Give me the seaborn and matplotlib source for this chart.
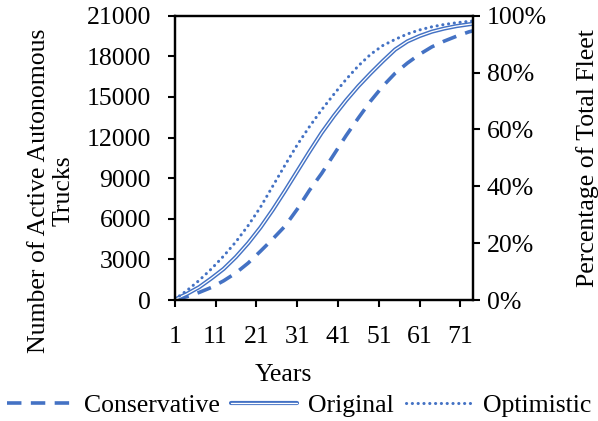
import numpy as np
import pandas as pd
import matplotlib
matplotlib.use('Agg')
import matplotlib.pyplot as plt
import matplotlib.patheffects as pe
from matplotlib.ticker import PercentFormatter
import seaborn as sns

# data
years = [1, 4, 7, 10, 13, 16, 19, 22, 25, 28, 31, 34, 37, 40, 43, 46, 49, 52, 55, 58, 61, 64, 67, 70, 73, 74]
conservative = [20, 250, 560, 930, 1420, 2000, 2730, 3600, 4500, 5450, 6700, 8100, 9350, 10750, 12150,
                13450, 14700, 15800, 16750, 17500, 18150, 18700, 19120, 19480, 19800, 19880]
original = [30, 450, 950, 1600, 2300, 3180, 4200, 5350, 6650, 8050, 9500, 10950, 12350, 13600, 14750,
            15800, 16750, 17650, 18500, 19100, 19500, 19820, 20050, 20230, 20360, 20400]
optimistic = [50, 700, 1450, 2300, 3250, 4300, 5500, 6850, 8400, 9950, 11450, 12800, 14050, 15200, 16300,
              17300, 18150, 18800, 19250, 19650, 19950, 20180, 20350, 20480, 20580, 20610]

left_ticks = [0, 3000, 6000, 9000, 12000, 15000, 18000, 21000]
right_ticks = [0, 0.2, 0.4, 0.6, 0.8, 1.0]
x_ticks = [1, 11, 21, 31, 41, 51, 61, 71]

blue = '#4472C4'
fs = 18.5

sns.set_style('white')
plt.rcParams['font.family'] = ['Liberation Serif', 'DejaVu Serif']
plt.rcParams['text.color'] = 'black'
plt.rcParams['axes.labelcolor'] = 'black'
plt.rcParams['xtick.color'] = 'black'
plt.rcParams['ytick.color'] = 'black'

fig = plt.figure(figsize=(5.98, 4.21), dpi=100)
ax = fig.add_axes([0.2921, 0.2874, 0.4984, 0.6753])

sns.lineplot(x=years, y=conservative, ax=ax, color=blue, lw=2.6,
             linestyle=(0, (4.0, 2.6)), label='Conservative')
sns.lineplot(x=years, y=original, ax=ax, color='white', lw=0.9, label='Original',
             path_effects=[pe.Stroke(linewidth=3.0, foreground=blue), pe.Normal()])
sns.lineplot(x=years, y=optimistic, ax=ax, color=blue, lw=2.2, dash_capstyle='round',
             linestyle=(0, (0.05, 1.85)), label='Optimistic')

ax.set_xlim(1, 74)
ax.set_ylim(0, 21000)
ax.set_xticks(x_ticks)
ax.set_yticks(left_ticks)
ax.tick_params(axis='y', direction='out', length=5, width=1.5, labelsize=fs, pad=12, left=True)
ax.tick_params(axis='x', direction='out', length=5, width=1.5, labelsize=fs, pad=14, bottom=True)
for s in ax.spines.values():
    s.set_linewidth(1.6)
    s.set_color('black')

ax.set_xlabel('Years', fontsize=fs)
ax.xaxis.set_label_coords(0.364, -0.225)
ax.set_ylabel('Number of Active Autonomous\nTrucks', fontsize=fs, linespacing=1.15)
ax.yaxis.set_label_coords(-0.335, 0.385)

ax2 = ax.twinx()
ax2.set_ylim(0, 1)
ax2.set_yticks(right_ticks)
ax2.yaxis.set_major_formatter(PercentFormatter(1.0, decimals=0))
ax2.tick_params(direction='out', length=5, width=1.5, labelsize=fs, pad=5, right=True)
for s in ax2.spines.values():
    s.set_linewidth(1.6)
    s.set_color('black')
ax2.set_ylabel('Percentage of Total Fleet', fontsize=fs)
ax2.yaxis.set_label_coords(1.345, 0.5)

handles, labels = ax.get_legend_handles_labels()
ax.get_legend().remove()
fig.legend(handles, labels, loc='center', bbox_to_anchor=(0.5, 0.036), ncol=3,
           frameon=False, fontsize=fs, handlelength=2.55, handletextpad=0.45,
           columnspacing=0.45, borderpad=0, borderaxespad=0)

fig.savefig('out.png', dpi=100)
